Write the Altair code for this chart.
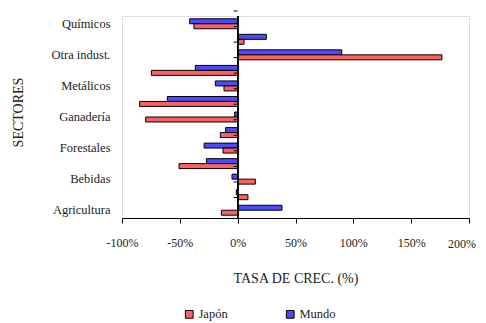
import altair as alt
import pandas as pd

sectores = ["Químicos", "Pesca", "Otra indust.", "Minería", "Metálicos", "Maquinaria",
            "Ganadería", "Frutas", "Forestales", "Combustibles", "Bebidas", "Alimentos", "Agricultura"]
mostrar = ["Químicos", "Otra indust.", "Metálicos", "Ganadería", "Forestales", "Bebidas", "Agricultura"]
mundo = [-41.5, 24.8, 90, -36.6, -19.3, -60.8, -2.6, -10.4, -29, -27, -4.9, -1.2, 38.3]
japon = [-37.8, 5.5, 176.6, -74.6, -11.8, -84.7, -79.5, -15, -12.7, -50.7, 15.3, 8.9, -14.1]
series = ["Japón", "Mundo"]
colores = ["#ff5f5f", "#4a4aff"]
x_ticks = [-100, -50, 0, 50, 100, 150, 200]

rows = []
for s, m, j in zip(sectores, mundo, japon):
    rows.append({"sector": s, "serie": "Mundo", "valor": m})
    rows.append({"sector": s, "serie": "Japón", "valor": j})
df = pd.DataFrame(rows)
df_sec = pd.DataFrame({"sector": sectores})
df_last = pd.DataFrame({"v": [x_ticks[-1]], "t": [f"{x_ticks[-1]}%"]})

FONT = "Liberation Serif"
label_expr = "indexof(" + str(mostrar).replace("'", '"') + ", datum.value) >= 0 ? datum.value : ''"

yscale = alt.Scale(domain=sectores, paddingInner=0.36, paddingOuter=0.18)
xscale = alt.Scale(domain=[-100, 200], nice=False)

bars = alt.Chart(df).mark_bar(stroke="black", strokeWidth=1).encode(
    y=alt.Y("sector:N", scale=yscale, sort=sectores,
            axis=alt.Axis(title="SECTORES", labelExpr=label_expr, domain=False, ticks=False,
                          labelPadding=12, labelFont=FONT, labelFontSize=12.5, labelColor="#222",
                          titleFont=FONT, titleFontSize=14, titleFontWeight="normal", titleColor="#222",
                          titleX=-104, titleY=96, titleAngle=-90, titleAlign="center", titleBaseline="middle")),
    yOffset=alt.YOffset("serie:N", scale=alt.Scale(domain=["Mundo", "Japón"])),
    x=alt.X("valor:Q", scale=xscale,
            axis=alt.Axis(title="TASA DE CREC. (%)", values=x_ticks,
                          labelExpr="datum.value == 200 ? '' : datum.value + '%'",
                          grid=False, domainColor="black", tickColor="black", tickSize=5,
                          labelFlush=False, labelOverlap=False,
                          labelPadding=14, labelFont=FONT, labelFontSize=12, labelColor="#222",
                          titleFont=FONT, titleFontSize=14, titleFontWeight="normal", titleColor="#222",
                          titlePadding=23)),
    color=alt.Color("serie:N", scale=alt.Scale(domain=series, range=colores),
                    legend=alt.Legend(title=None, orient="none", legendX=61, legendY=292,
                                      direction="horizontal", symbolType="square", symbolSize=60,
                                      symbolStrokeColor="black", symbolStrokeWidth=1,
                                      labelFont=FONT, labelFontSize=12.5, labelColor="#222",
                                      columnPadding=56, labelOffset=3)),
)

last_label = alt.Chart(df_last).mark_text(
    align="right", baseline="top", dx=7, font=FONT, fontSize=12, color="#222"
).encode(x=alt.X("v:Q", scale=xscale), y=alt.value(222.5), text="t:N")

zero = alt.Chart(df_sec).mark_rule(color="black", strokeWidth=1).encode(
    x=alt.datum(0), y=alt.value(0), y2=alt.value(202)
)

ticks = alt.Chart(df_sec).mark_rule(color="black", strokeWidth=1).encode(
    y=alt.Y("sector:N", scale=yscale, sort=sectores),
    yOffset=alt.value(-7.77),
    x=alt.datum(-3.5), x2=alt.datum(0),
)

chart = alt.layer(bars, zero, ticks, last_label).properties(
    width=347, height=202,
    autosize=alt.AutoSizeParams(type="none"),
    padding={"left": 114, "top": 8, "right": 8, "bottom": 104},
).configure_view(stroke=None).configure(background="white")

chart.save("out.html", embed_options={"renderer": "svg", "actions": False})
